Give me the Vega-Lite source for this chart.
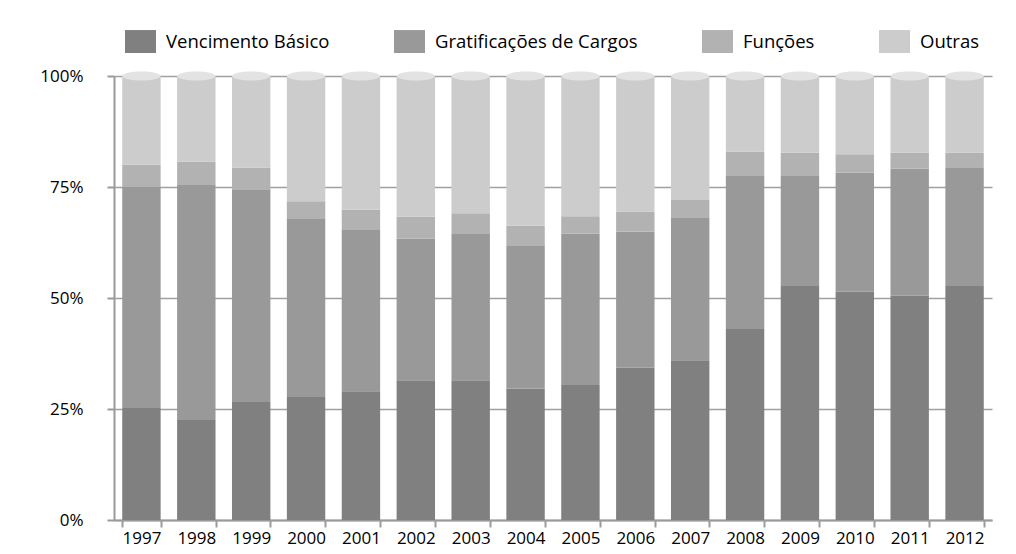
{
  "$schema": "https://vega.github.io/schema/vega-lite/v6.json",
  "width": 878,
  "height": 444,
  "autosize": {"type": "none"},
  "padding": {"left": 114, "top": 76, "right": 24, "bottom": 34},
  "background": "white",
  "config": {
    "font": "Open Sans",
    "view": {"stroke": null},
    "axis": {"labelFont": "Open Sans", "labelColor": "#000000", "domainColor": "#9a9a9a", "tickColor": "#9a9a9a", "gridColor": "#a0a0a0"}
  },
  "data": {"values": [
    {"ano": "1997", "tipo": "Vencimento Básico", "ordem": 1, "valor": 25.2},
    {"ano": "1997", "tipo": "Gratificações de Cargos", "ordem": 2, "valor": 49.8},
    {"ano": "1997", "tipo": "Funções", "ordem": 3, "valor": 5.0},
    {"ano": "1997", "tipo": "Outras", "ordem": 4, "valor": 20.0},
    {"ano": "1998", "tipo": "Vencimento Básico", "ordem": 1, "valor": 22.5},
    {"ano": "1998", "tipo": "Gratificações de Cargos", "ordem": 2, "valor": 53.1},
    {"ano": "1998", "tipo": "Funções", "ordem": 3, "valor": 5.1},
    {"ano": "1998", "tipo": "Outras", "ordem": 4, "valor": 19.3},
    {"ano": "1999", "tipo": "Vencimento Básico", "ordem": 1, "valor": 26.6},
    {"ano": "1999", "tipo": "Gratificações de Cargos", "ordem": 2, "valor": 47.9},
    {"ano": "1999", "tipo": "Funções", "ordem": 3, "valor": 4.9},
    {"ano": "1999", "tipo": "Outras", "ordem": 4, "valor": 20.6},
    {"ano": "2000", "tipo": "Vencimento Básico", "ordem": 1, "valor": 27.7},
    {"ano": "2000", "tipo": "Gratificações de Cargos", "ordem": 2, "valor": 40.1},
    {"ano": "2000", "tipo": "Funções", "ordem": 3, "valor": 4.0},
    {"ano": "2000", "tipo": "Outras", "ordem": 4, "valor": 28.2},
    {"ano": "2001", "tipo": "Vencimento Básico", "ordem": 1, "valor": 29.0},
    {"ano": "2001", "tipo": "Gratificações de Cargos", "ordem": 2, "valor": 36.5},
    {"ano": "2001", "tipo": "Funções", "ordem": 3, "valor": 4.4},
    {"ano": "2001", "tipo": "Outras", "ordem": 4, "valor": 30.1},
    {"ano": "2002", "tipo": "Vencimento Básico", "ordem": 1, "valor": 31.5},
    {"ano": "2002", "tipo": "Gratificações de Cargos", "ordem": 2, "valor": 31.9},
    {"ano": "2002", "tipo": "Funções", "ordem": 3, "valor": 4.9},
    {"ano": "2002", "tipo": "Outras", "ordem": 4, "valor": 31.7},
    {"ano": "2003", "tipo": "Vencimento Básico", "ordem": 1, "valor": 31.5},
    {"ano": "2003", "tipo": "Gratificações de Cargos", "ordem": 2, "valor": 33.1},
    {"ano": "2003", "tipo": "Funções", "ordem": 3, "valor": 4.5},
    {"ano": "2003", "tipo": "Outras", "ordem": 4, "valor": 30.9},
    {"ano": "2004", "tipo": "Vencimento Básico", "ordem": 1, "valor": 29.6},
    {"ano": "2004", "tipo": "Gratificações de Cargos", "ordem": 2, "valor": 32.3},
    {"ano": "2004", "tipo": "Funções", "ordem": 3, "valor": 4.4},
    {"ano": "2004", "tipo": "Outras", "ordem": 4, "valor": 33.7},
    {"ano": "2005", "tipo": "Vencimento Básico", "ordem": 1, "valor": 30.4},
    {"ano": "2005", "tipo": "Gratificações de Cargos", "ordem": 2, "valor": 34.1},
    {"ano": "2005", "tipo": "Funções", "ordem": 3, "valor": 3.9},
    {"ano": "2005", "tipo": "Outras", "ordem": 4, "valor": 31.6},
    {"ano": "2006", "tipo": "Vencimento Básico", "ordem": 1, "valor": 34.3},
    {"ano": "2006", "tipo": "Gratificações de Cargos", "ordem": 2, "valor": 30.6},
    {"ano": "2006", "tipo": "Funções", "ordem": 3, "valor": 4.6},
    {"ano": "2006", "tipo": "Outras", "ordem": 4, "valor": 30.5},
    {"ano": "2007", "tipo": "Vencimento Básico", "ordem": 1, "valor": 36.0},
    {"ano": "2007", "tipo": "Gratificações de Cargos", "ordem": 2, "valor": 32.2},
    {"ano": "2007", "tipo": "Funções", "ordem": 3, "valor": 3.9},
    {"ano": "2007", "tipo": "Outras", "ordem": 4, "valor": 27.9},
    {"ano": "2008", "tipo": "Vencimento Básico", "ordem": 1, "valor": 43.0},
    {"ano": "2008", "tipo": "Gratificações de Cargos", "ordem": 2, "valor": 34.5},
    {"ano": "2008", "tipo": "Funções", "ordem": 3, "valor": 5.5},
    {"ano": "2008", "tipo": "Outras", "ordem": 4, "valor": 17.0},
    {"ano": "2009", "tipo": "Vencimento Básico", "ordem": 1, "valor": 52.7},
    {"ano": "2009", "tipo": "Gratificações de Cargos", "ordem": 2, "valor": 24.8},
    {"ano": "2009", "tipo": "Funções", "ordem": 3, "valor": 5.2},
    {"ano": "2009", "tipo": "Outras", "ordem": 4, "valor": 17.3},
    {"ano": "2010", "tipo": "Vencimento Básico", "ordem": 1, "valor": 51.4},
    {"ano": "2010", "tipo": "Gratificações de Cargos", "ordem": 2, "valor": 26.8},
    {"ano": "2010", "tipo": "Funções", "ordem": 3, "valor": 4.2},
    {"ano": "2010", "tipo": "Outras", "ordem": 4, "valor": 17.6},
    {"ano": "2011", "tipo": "Vencimento Básico", "ordem": 1, "valor": 50.5},
    {"ano": "2011", "tipo": "Gratificações de Cargos", "ordem": 2, "valor": 28.6},
    {"ano": "2011", "tipo": "Funções", "ordem": 3, "valor": 3.6},
    {"ano": "2011", "tipo": "Outras", "ordem": 4, "valor": 17.3},
    {"ano": "2012", "tipo": "Vencimento Básico", "ordem": 1, "valor": 52.7},
    {"ano": "2012", "tipo": "Gratificações de Cargos", "ordem": 2, "valor": 26.6},
    {"ano": "2012", "tipo": "Funções", "ordem": 3, "valor": 3.4},
    {"ano": "2012", "tipo": "Outras", "ordem": 4, "valor": 17.3}
  ]},
  "encoding": {
    "x": {
      "field": "ano", "type": "ordinal",
      "scale": {"paddingInner": 0.3, "paddingOuter": 0.15},
      "axis": {"title": null, "labelAngle": 0, "labelFontSize": 17, "labelPadding": 3, "tickBand": "extent", "tickSize": 7, "tickWidth": 2, "domainWidth": 2, "grid": false}
    }
  },
  "layer": [
    {
      "mark": {"type": "bar"},
      "encoding": {
        "y": {
          "field": "valor", "type": "quantitative", "stack": "normalize",
          "scale": {"domain": [0, 1]},
          "axis": {"title": null, "values": [0, 0.25, 0.5, 0.75, 1], "format": ".0%", "labelFontSize": 17, "labelPadding": 24, "tickSize": 7, "tickWidth": 2, "domainWidth": 2, "grid": true, "gridWidth": 1.5}
        },
        "color": {
          "field": "tipo", "type": "nominal",
          "sort": ["Vencimento Básico", "Gratificações de Cargos", "Funções", "Outras"],
          "scale": {"domain": ["Vencimento Básico", "Gratificações de Cargos", "Funções", "Outras"], "range": ["#808080", "#999999", "#b2b2b2", "#cccccc"]},
          "legend": {
            "title": null, "orient": "none", "direction": "horizontal", "legendX": 11, "legendY": -50,
            "padding": 0, "columnPadding": 64, "labelFontSize": 18.5, "labelFont": "Open Sans", "labelColor": "#000000",
            "symbolType": "M-1,-0.74H1V0.74H-1Z", "symbolSize": 961, "symbolStrokeWidth": 0, "symbolOpacity": 1, "labelOffset": 10, "labelLimit": 400
          }
        },
        "order": {"field": "ordem", "type": "quantitative", "sort": "ascending"}
      }
    },
    {
      "transform": [{"filter": "datum.tipo === 'Outras'"}],
      "mark": {"type": "point", "shape": "M-1,0A1,0.24 0 1,1 1,0A1,0.24 0 1,1 -1,0Z", "size": 1444, "filled": true, "fill": "#e3e3e3", "opacity": 1, "strokeWidth": 0},
      "encoding": {
        "y": {"datum": 1, "type": "quantitative"}
      }
    }
  ]
}
